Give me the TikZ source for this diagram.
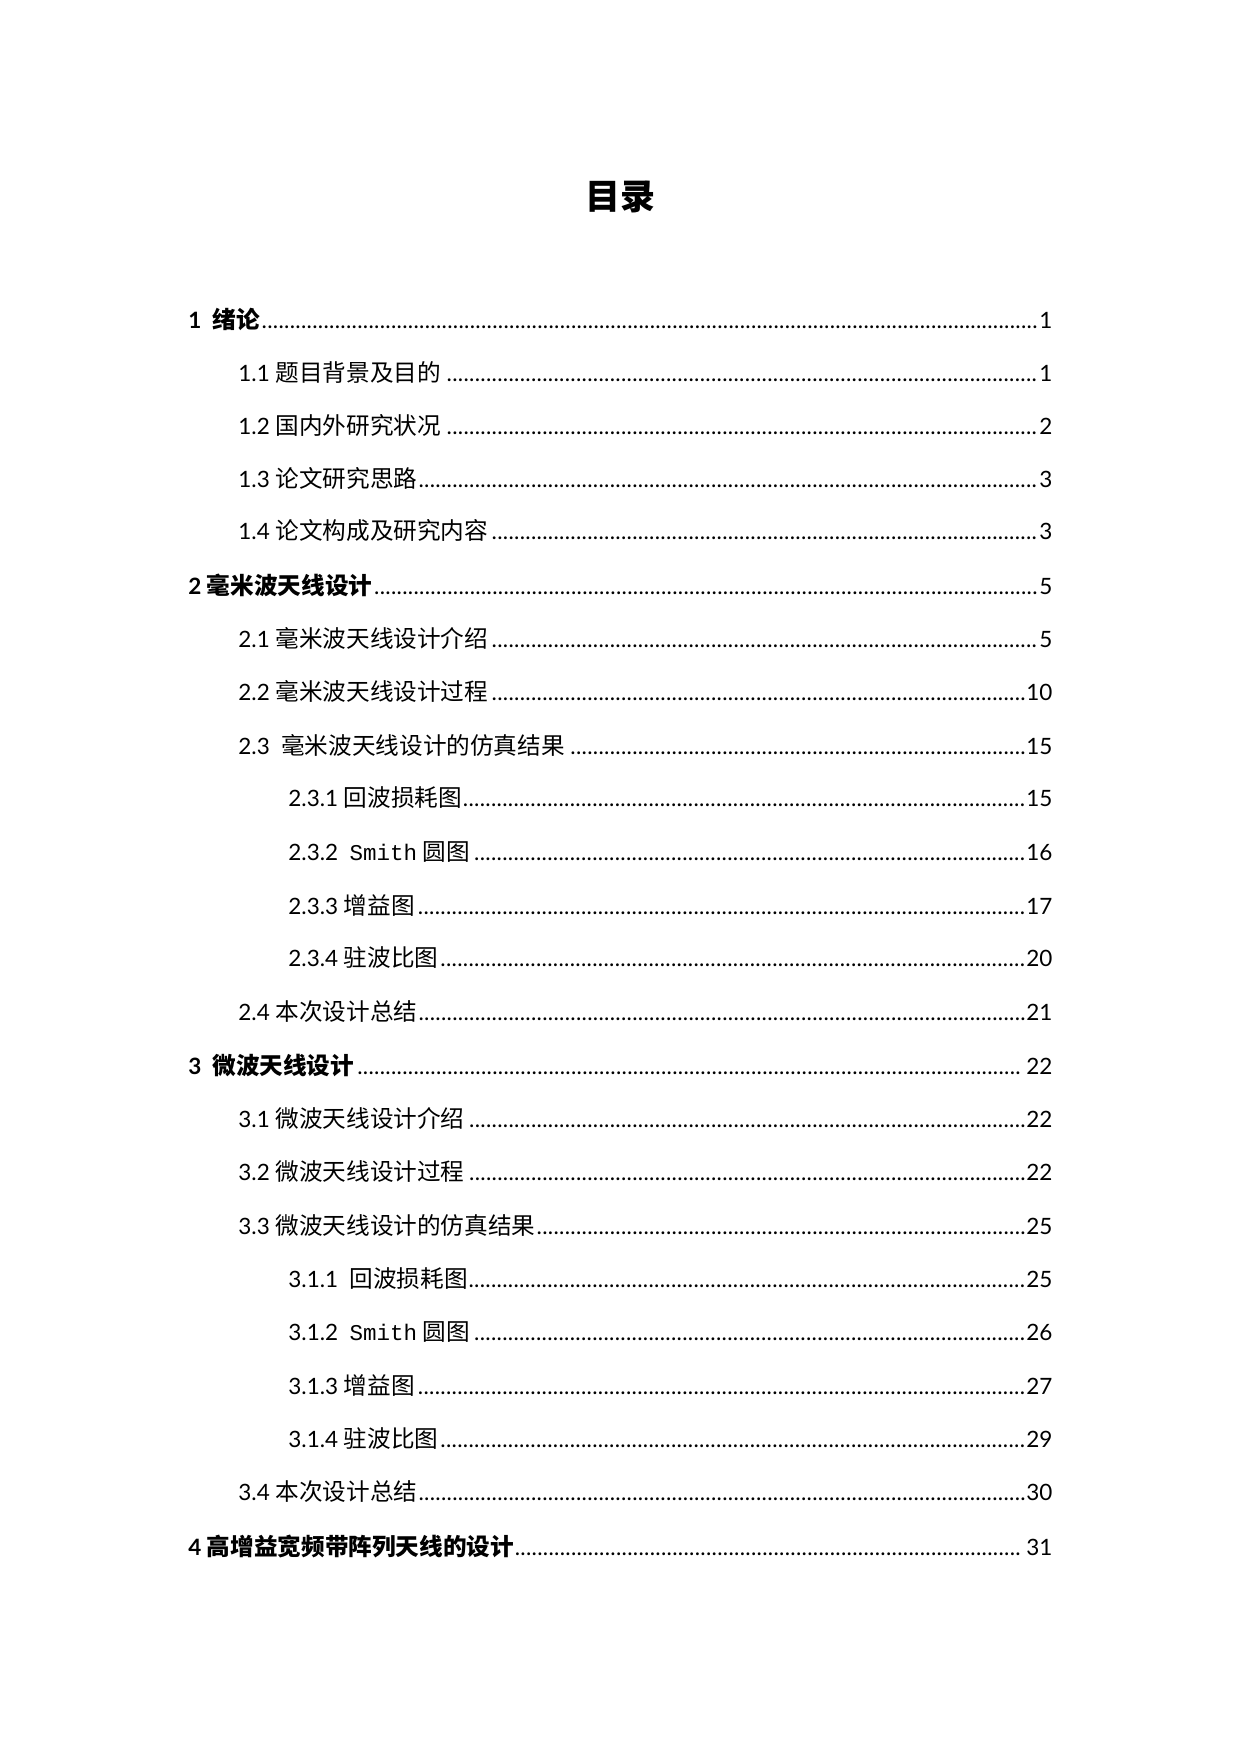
\documentclass[tikz,border=0pt]{standalone}
\usepackage{fontspec}
\setmainfont{Lato}
\newfontfamily\cjk[Scale=1.05]{Noto Sans CJK SC}
\newfontfamily\mono{Liberation Mono}
\begin{document}
\begin{tikzpicture}[x=0.48pt,y=-0.48pt,
  toc/.style={anchor=west,inner sep=0pt,font=\fontsize{10.8pt}{12pt}\selectfont}]
\useasboundingbox (0,0) rectangle (1240,1754);
\node[inner sep=0pt,font=\fontsize{16pt}{18pt}\selectfont\cjk\bfseries] (title) at (620,197) {目录};
\newcommand\tocline[5]{%
  \node[toc] (#1) at (#2,#3) {\hbox to \dimexpr(1052pt-#2pt)*48/100\relax{#4\leaders\hbox to 0.25em{\hss.\hss}\hfill#5}};}
\tocline{a1}{188}{319}{\textbf{1\ \ {\cjk\bfseries 绪论}}}{1}
\tocline{a11}{238}{372}{1.1 {\cjk 题目背景及目的}}{1}
\tocline{a12}{238}{425}{1.2 {\cjk 国内外研究状况}}{2}
\tocline{a13}{238}{478}{1.3 {\cjk 论文研究思路}}{3}
\tocline{a14}{238}{531}{1.4 {\cjk 论文构成及研究内容}}{3}
\tocline{a2}{188}{585}{\textbf{2 {\cjk\bfseries 毫米波天线设计}}}{5}
\tocline{a21}{238}{638}{2.1 {\cjk 毫米波天线设计介绍}}{5}
\tocline{a22}{238}{691}{2.2 {\cjk 毫米波天线设计过程}}{10}
\tocline{a23}{238}{745}{2.3\ \ {\cjk 毫米波天线设计的仿真结果}}{15}
\tocline{a231}{288}{798}{2.3.1 {\cjk 回波损耗图}}{15}
\tocline{a232}{288}{852}{2.3.2\ \ {\mono Smith} {\cjk 圆图}}{16}
\tocline{a233}{288}{905}{2.3.3 {\cjk 增益图}}{17}
\tocline{a234}{288}{958}{2.3.4 {\cjk 驻波比图}}{20}
\tocline{a24}{238}{1012}{2.4 {\cjk 本次设计总结}}{21}
\tocline{a3}{188}{1065}{\textbf{3\ \ {\cjk\bfseries 微波天线设计}}}{22}
\tocline{a31}{238}{1118}{3.1 {\cjk 微波天线设计介绍}}{22}
\tocline{a32}{238}{1172}{3.2 {\cjk 微波天线设计过程}}{22}
\tocline{a33}{238}{1225}{3.3 {\cjk 微波天线设计的仿真结果}}{25}
\tocline{a311}{288}{1279}{3.1.1\ \ {\cjk 回波损耗图}}{25}
\tocline{a312}{288}{1332}{3.1.2\ \ {\mono Smith} {\cjk 圆图}}{26}
\tocline{a313}{288}{1385}{3.1.3 {\cjk 增益图}}{27}
\tocline{a314}{288}{1439}{3.1.4 {\cjk 驻波比图}}{29}
\tocline{a34}{238}{1492}{3.4 {\cjk 本次设计总结}}{30}
\tocline{a4}{188}{1546}{\textbf{4 {\cjk\bfseries 高增益宽频带阵列天线的设计}}}{31}
\end{tikzpicture}
\end{document}
